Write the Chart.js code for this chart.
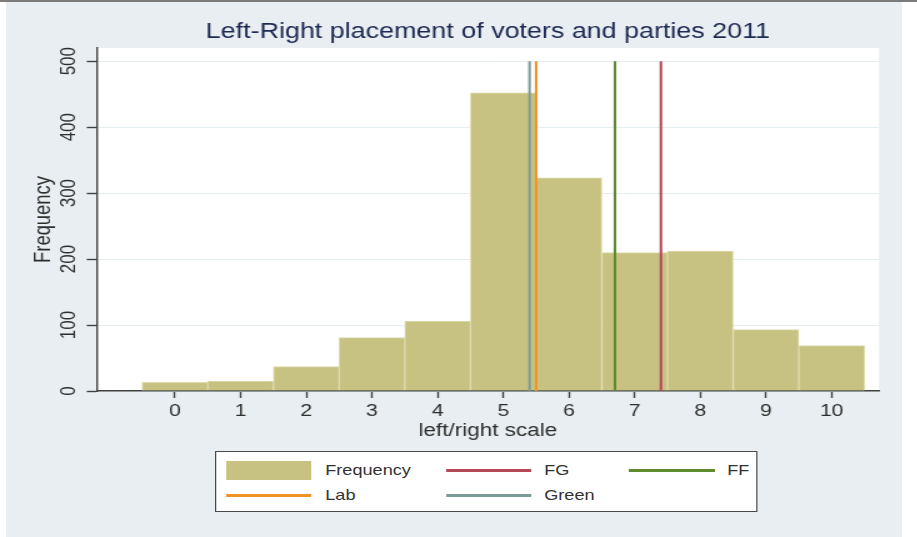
<!DOCTYPE html>
<html>
<head>
<meta charset="utf-8">
<title>Left-Right placement of voters and parties 2011</title>
<script src="https://cdn.jsdelivr.net/npm/chart.js@4.4.1/dist/chart.umd.min.js"></script>
<style>
  html, body { margin: 0; padding: 0; background: #ffffff; width: 917px; height: 537px; overflow: hidden; }
  #topRule { position: absolute; left: 0; top: 0; width: 917px; height: 2px; background: #7b7b7b; }
  #backdrop { position: absolute; left: 6px; top: 2px; width: 896px; height: 535px; background: #e8eef1; }
  /* the whole graph is laid out narrow and widened horizontally */
  #stage { position: absolute; left: 0; top: 0; width: 734px; height: 537px;
           transform-origin: 0 0; transform: scaleX(1.25); }
  #chart { position: absolute; left: 0; top: 0; display: block; }
  #legend { position: absolute; left: 172.4px; top: 451px; width: 434px; height: 61px;
            box-sizing: border-box; border: 1.6px solid #4a4a4a; background: #ffffff;
            font-family: 'Liberation Sans', Arial, sans-serif; font-size: 14.5px; color: #333333; }
  .key { position: absolute; }
  .label { position: absolute; height: 20px; line-height: 20px; white-space: nowrap; }
</style>
</head>
<body>
<div id="topRule"></div>
<div id="backdrop"></div>
<div id="stage">
  <canvas id="chart" width="734" height="445"></canvas>
  <div id="legend"></div>
</div>
<script>
// left/right self-placement scale points
const scaleValues = [0, 1, 2, 3, 4, 5, 6, 7, 8, 9, 10];
// number of respondents at each scale point
const frequencies = [13, 15, 37, 81, 106, 452, 323, 210, 212, 93, 69];
// mean placement of each party on the same scale
const partyNames = ['FG', 'FF', 'Lab', 'Green'];
const partyPositions = [7.4, 6.7, 5.5, 5.4];
// reference lines run from zero up to this frequency
const referenceTop = 500;
const frequencyTicks = [0, 100, 200, 300, 400, 500];

const partyColors = { FG: '#b44a58', FF: '#5d8b2e', Lab: '#ef9327', Green: '#7d9c97' };
const barFill = '#c8c282';
const FONT = "'Liberation Sans', Arial, sans-serif";
const INK = '#2e2e2e';
const AXIS = '#404040';

const histogram = {
  type: 'bar',
  label: 'Frequency',
  data: scaleValues.map((v, i) => ({ x: v, y: frequencies[i] })),
  backgroundColor: barFill,
  borderColor: '#dedaab',
  borderWidth: 1,
  barPercentage: 1,
  categoryPercentage: 1,
  order: 10
};

const partyLines = partyNames.map((name, i) => ({
  type: 'line',
  label: name,
  data: [{ x: partyPositions[i], y: 0 }, { x: partyPositions[i], y: referenceTop }],
  borderColor: partyColors[name],
  borderWidth: 2.1,
  pointRadius: 0,
  fill: false,
  tension: 0,
  order: 1
}));

// white plotting region
const plotBackground = {
  id: 'plotBackground',
  beforeDraw(chart) {
    const { ctx, chartArea: a } = chart;
    ctx.save();
    ctx.fillStyle = '#ffffff';
    ctx.fillRect(a.left, a.top, a.right - a.left, a.bottom - a.top);
    ctx.restore();
  }
};

new Chart(document.getElementById('chart'), {
  type: 'bar',
  data: { datasets: [histogram, ...partyLines] },
  plugins: [plotBackground],
  options: {
    responsive: false,
    animation: false,
    devicePixelRatio: 1,
    events: [],
    layout: { padding: { top: 0, left: 0, right: 30.8, bottom: 0 } },
    plugins: {
      legend: { display: false },
      tooltip: { enabled: false },
      title: {
        display: true,
        fullSize: false,
        text: 'Left-Right placement of voters and parties 2011',
        color: '#1c2951',
        font: { family: FONT, size: 21.5, weight: 'normal' },
        padding: { top: 19, bottom: 3.2 }
      }
    },
    scales: {
      x: {
        type: 'linear',
        min: -1.19,
        max: 10.72,
        offset: false,
        afterBuildTicks: s => { s.ticks = scaleValues.map(v => ({ value: v })); },
        afterFit: s => { s.height = 54; s.paddingLeft = 0; s.paddingRight = 0; },
        grid: { display: true, drawOnChartArea: false, drawTicks: true, tickLength: 7,
                tickColor: AXIS, tickWidth: 1.4, offset: false },
        border: { display: true, color: AXIS, width: 1.6 },
        ticks: { font: { family: FONT, size: 17 }, color: INK, padding: 2.8,
                 maxRotation: 0, autoSkip: false },
        title: { display: true, text: 'left/right scale', color: INK,
                 font: { family: FONT, size: 18 }, padding: { top: 0, bottom: 3.2 } }
      },
      y: {
        type: 'linear',
        min: 0,
        max: 520,
        afterBuildTicks: s => { s.ticks = frequencyTicks.map(v => ({ value: v })); },
        afterFit: s => { s.width = 77.4; s.paddingTop = 0; s.paddingBottom = 0; },
        grid: { color: '#e4eef0', lineWidth: 1, drawTicks: true, tickLength: 8,
                tickColor: AXIS, tickWidth: 1.4 },
        border: { display: true, color: AXIS, width: 1.4 },
        ticks: { font: { family: FONT, size: 17 }, color: INK, minRotation: 90, maxRotation: 90,
                 crossAlign: 'center', padding: 0, autoSkip: false },
        title: { display: true, text: 'Frequency', color: INK,
                 font: { family: FONT, size: 18.4 }, padding: { top: 23.7, bottom: 0 } }
      }
    }
  }
});

// legend: three columns, two rows
const legendEntries = [
  { name: 'Frequency', kind: 'box', col: 0, row: 0 },
  { name: 'FG', kind: 'line', col: 1, row: 0 },
  { name: 'FF', kind: 'line', col: 2, row: 0 },
  { name: 'Lab', kind: 'line', col: 0, row: 1 },
  { name: 'Green', kind: 'line', col: 1, row: 1 }
];
const keyLeft = [7.6, 183.6, 330];
const keyWidth = 68.4;
const textLeft = [86.8, 262, 408.4];
const rowMiddle = [18.3, 43.3];
const legend = document.getElementById('legend');
legendEntries.forEach(e => {
  const key = document.createElement('div');
  key.className = 'key';
  key.style.left = keyLeft[e.col] + 'px';
  key.style.width = keyWidth + 'px';
  if (e.kind === 'box') {
    key.style.top = (rowMiddle[e.row] - 9.5) + 'px';
    key.style.height = '19px';
    key.style.background = barFill;
  } else {
    key.style.top = (rowMiddle[e.row] - 1.25) + 'px';
    key.style.height = '2.5px';
    key.style.background = partyColors[e.name];
  }
  legend.appendChild(key);
  const text = document.createElement('div');
  text.className = 'label';
  text.style.left = textLeft[e.col] + 'px';
  text.style.top = (rowMiddle[e.row] - 10) + 'px';
  text.textContent = e.name;
  legend.appendChild(text);
});
</script>
</body>
</html>
